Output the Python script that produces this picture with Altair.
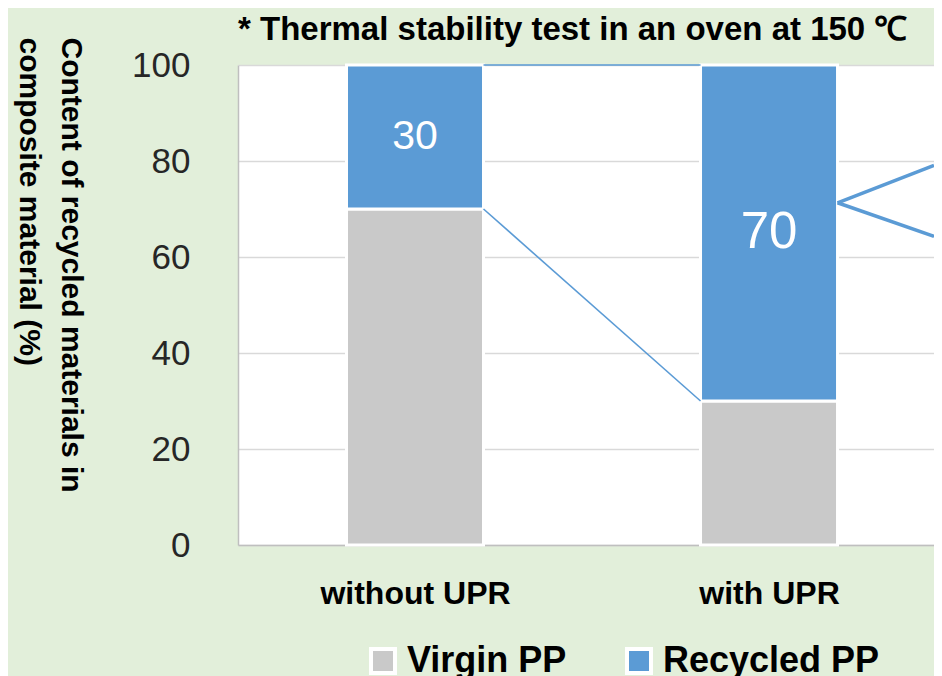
import altair as alt
import pandas as pd

# ---------------- data ----------------
categories = ["without UPR", "with UPR"]
series_names = ["Virgin PP", "Recycled PP"]
virgin_pp = [70, 30]
recycled_pp = [30, 70]
y_ticks = [0, 20, 40, 60, 80, 100]
callout_start = [71.3]
callout_ends = [79.1, 64.3]

title_text = "* Thermal stability test in an oven at 150 ℃"
y_title = ["Content of recycled materials in", "composite material (%)"]

# ---------------- styles ----------------
GREY = "#C9C9C9"
BLUE = "#5B9BD5"
BG = "#E2EFDA"
FONT = "Liberation Sans"
HALF = 0.1935          # half bar width in category units
X_MAX = 1.966          # right edge of visible plot area

# ---------------- tables ----------------
series_vals = [virgin_pp, recycled_pp]
rows = []
for i, c in enumerate(categories):
    base = 0
    for s, vals in zip(series_names, series_vals):
        v = vals[i]
        rows.append(dict(cat=c, series=s, value=v,
                         x0=i + 0.5 - HALF, x1=i + 0.5 + HALF, xc=i + 0.5,
                         y0=base, y1=base + v, ymid=base + v / 2))
        base += v
bars_df = pd.DataFrame(rows)

line_rows = []
for s in series_names:
    sub = bars_df[bars_df.series == s].reset_index(drop=True)
    line_rows.append(dict(seg=s, x=sub.loc[0, "x1"], y=sub.loc[0, "y1"]))
    line_rows.append(dict(seg=s, x=sub.loc[1, "x0"], y=sub.loc[1, "y1"]))
lines_df = pd.DataFrame(line_rows)

call_rows = []
for k, e in enumerate(callout_ends):
    call_rows.append(dict(seg=k, x=1.5 + HALF, y=callout_start[0]))
    call_rows.append(dict(seg=k, x=X_MAX, y=e))
call_df = pd.DataFrame(call_rows)

label_df = bars_df[bars_df.series == "Recycled PP"]

xscale = alt.Scale(domain=[0, X_MAX], nice=False, zero=False)
yscale = alt.Scale(domain=[0, 100], nice=False)

label_expr = "datum.value < 1 ? '%s' : '%s'" % (categories[0], categories[1])

x_axis = alt.Axis(values=[0.5, 1.5], labelExpr=label_expr, title=None,
                  domain=True, domainColor="#BFBFBF", domainWidth=1.5,
                  ticks=False, tickSize=0, grid=False, labelFlush=False,
                  labelLimit=0, labelOverlap=False,
                  labelFont=FONT, labelFontWeight="bold", labelFontSize=32,
                  labelColor="black", labelPadding=33)
y_axis = alt.Axis(values=y_ticks, title=y_title, titleX=-177, titleY=-28,
                  titleAngle=90, titleAlign="left", titleBaseline="alphabetic",
                  titleFont=FONT, titleFontSize=30, titleFontWeight="bold",
                  titleColor="black", titleLineHeight=42, titleLimit=0,
                  labelFont=FONT, labelFontSize=35, labelColor="#262626",
                  labelPadding=48, ticks=False, tickSize=0,
                  domainColor="#BFBFBF", domainWidth=1.5,
                  gridColor="#D9D9D9", gridWidth=1.5)

bars = alt.Chart(bars_df).mark_bar(stroke="white", strokeWidth=3).encode(
    x=alt.X("x0:Q", scale=xscale, axis=x_axis),
    x2="x1:Q",
    y=alt.Y("y0:Q", scale=yscale, axis=y_axis),
    y2="y1:Q",
    color=alt.Color("series:N",
                    scale=alt.Scale(domain=series_names, range=[GREY, BLUE]),
                    legend=alt.Legend(orient="none", legendX=127, legendY=578,
                                      direction="horizontal", title=None,
                                      symbolType="square", symbolSize=576,
                                      symbolStrokeColor="white", symbolStrokeWidth=4,
                                      labelFont=FONT, labelFontSize=36,
                                      labelFontWeight="bold", labelColor="black",
                                      labelLimit=0,
                                      labelOffset=6, columnPadding=52, padding=0)),
)

labels = alt.Chart(label_df).mark_text(color="white", font=FONT).encode(
    x=alt.X("xc:Q", scale=xscale),
    y=alt.Y("ymid:Q", scale=yscale),
    text="value:Q",
    size=alt.condition("datum.value > 50", alt.value(51), alt.value(41)),
)

series_lines = alt.Chart(lines_df).mark_line(color=BLUE, strokeWidth=1.6).encode(
    x=alt.X("x:Q", scale=xscale),
    y=alt.Y("y:Q", scale=yscale),
    detail="seg:N",
)

callouts = alt.Chart(call_df).mark_line(color=BLUE, strokeWidth=3.5).encode(
    x=alt.X("x:Q", scale=xscale),
    y=alt.Y("y:Q", scale=yscale),
    detail="seg:N",
)

chart = alt.layer(bars, series_lines, callouts, labels).properties(
    width=696, height=480,
    padding={"left": 230, "top": 57, "right": 0, "bottom": 131},
    autosize=alt.AutoSizeParams(type="none"),
    background=BG,
    title=alt.Title(title_text, anchor="start", frame="group", offset=18, dy=28,
                    font=FONT, fontSize=33, fontWeight="bold", color="black"),
).configure_view(fill="white", stroke=None)

chart.save("out.html", embed_options={"renderer": "svg", "actions": False})
